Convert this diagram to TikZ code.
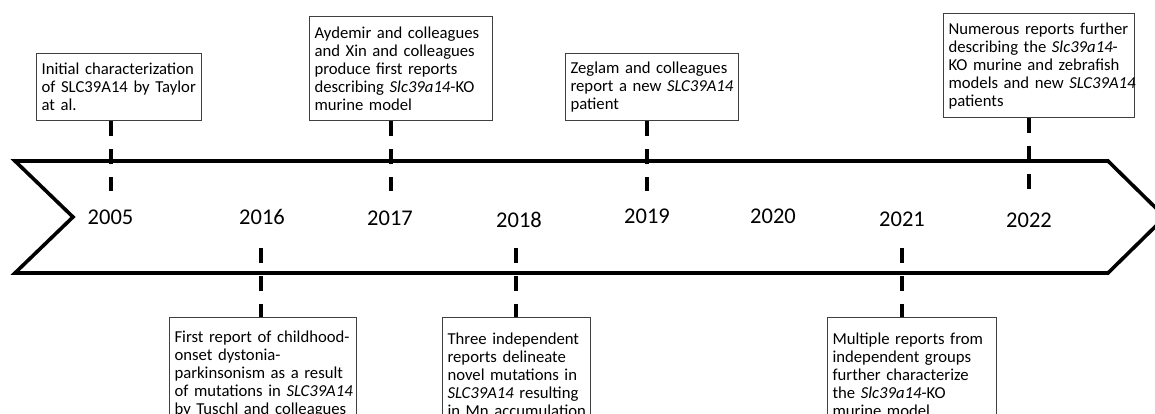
\documentclass[tikz,border=0pt]{standalone}
\usepackage{fontspec}
\setmainfont{Carlito}
\begin{document}
\begin{tikzpicture}[x=1pt,y=-1pt,
  evbox/.style={draw=black!75, line width=1.1pt, fill=white, anchor=north west,
    align=left, inner xsep=5pt, inner ysep=2pt,
    font=\fontsize{16.7}{18}\selectfont},
  yr/.style={font=\fontsize{22.5}{26}\selectfont, inner sep=0pt},
  conn/.style={line width=3.6pt, dash pattern=on 15pt off 13pt},
  band/.style={line width=3.6pt, line join=miter}]
\useasboundingbox (0,0) rectangle (1155,414);
\fill[white] (0,0) rectangle (1155,414);
\clip (0,0) rectangle (1155,414);

% timeline band
\draw[band] (15,161) -- (1108,161) -- (1165,217) -- (1108,273) -- (15,273) -- (73,217) -- cycle;

% years
\node[yr] (y2005) at (110.5,217) {2005};
\node[yr] (y2016) at (262,217) {2016};
\node[yr] (y2017) at (390,218) {2017};
\node[yr] (y2018) at (519,220) {2018};
\node[yr] (y2019) at (647,216) {2019};
\node[yr] (y2020) at (773,216) {2020};
\node[yr] (y2021) at (902,219) {2021};
\node[yr] (y2022) at (1029,220) {2022};

% connector ends
\coordinate (e2005) at (111,191);
\coordinate (e2017) at (391,191);
\coordinate (e2019) at (647,191);
\coordinate (e2022) at (1029,191);
\coordinate (s2016) at (261,248);
\coordinate (s2018) at (516,248);
\coordinate (s2021) at (902,248);

% top boxes
\node[evbox, text width=155pt, minimum height=67pt] (b2005) at (36,53)
  {\mbox{Initial characterization}\\\mbox{of SLC39A14 by Taylor}\\at al.};
\node[evbox, text width=173pt, minimum height=104pt] (b2017) at (309,16)
  {\mbox{Aydemir and colleagues}\\\mbox{and Xin and colleagues}\\\mbox{produce first reports}\\\mbox{describing \textit{Slc39a14}-KO}\\murine model};
\node[evbox, text width=163pt, minimum height=67pt] (b2019) at (565,53)
  {\mbox{Zeglam and colleagues}\\\mbox{report a new \textit{SLC39A14}}\\patient};
\node[evbox, text width=181pt, minimum height=104pt] (b2022) at (943,13)
  {\mbox{Numerous reports further}\\\mbox{describing the \textit{Slc39a14}-}\\\mbox{KO murine and zebrafish}\\\mbox{models and new \textit{SLC39A14}}\\patients};

% bottom boxes
\node[evbox, text width=177pt, minimum height=114pt] (b2016) at (169,317)
  {\mbox{First report of childhood-}\\\mbox{onset dystonia-}\\\mbox{parkinsonism as a result}\\\mbox{of mutations in \textit{SLC39A14}}\\\mbox{by Tuschl and colleagues}};
\node[evbox, text width=138pt, minimum height=114pt] (b2018) at (442,317)
  {\mbox{Three independent}\\\mbox{reports delineate}\\\mbox{novel mutations in}\\\mbox{\textit{SLC39A14} resulting}\\\mbox{in Mn accumulation}};
\node[evbox, text width=159pt, minimum height=114pt] (b2021) at (827,317)
  {\mbox{Multiple reports from}\\\mbox{independent groups}\\\mbox{further characterize}\\\mbox{the \textit{Slc39a14}-KO}\\murine model};

% dashed connectors
\draw[conn] (b2005.south -| e2005) -- (e2005);
\draw[conn] (b2017.south -| e2017) -- (e2017);
\draw[conn] (b2019.south -| e2019) -- (e2019);
\draw[conn] (b2022.south -| e2022) -- (e2022);
\draw[conn] (s2016) -- (b2016.north -| s2016);
\draw[conn] (s2018) -- (b2018.north -| s2018);
\draw[conn] (s2021) -- (b2021.north -| s2021);
\end{tikzpicture}
\end{document}
